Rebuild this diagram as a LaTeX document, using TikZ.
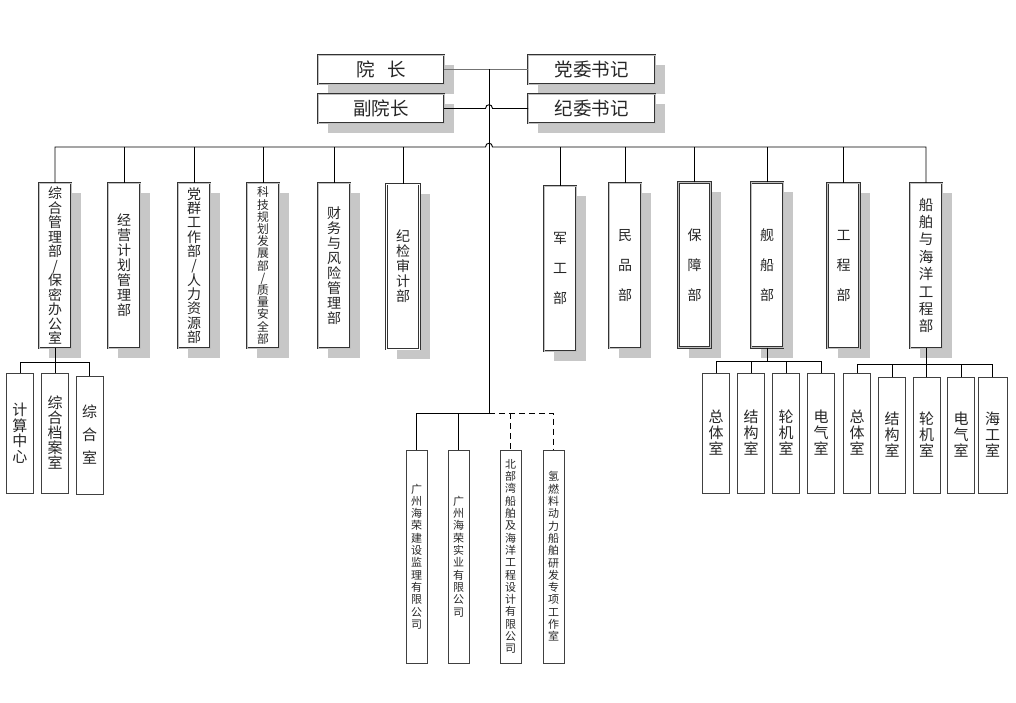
\documentclass[tikz,border=0pt]{standalone}
\usepackage{fontspec}
\setmainfont{Noto Sans CJK SC}
\usetikzlibrary{shadows}
\newcommand\myfs[2]{\fontsize{#1}{#2}\selectfont\lineskiplimit=-\maxdimen\lineskip=0pt}
\tikzset{
  every node/.style={inner sep=0pt, outer sep=0pt, text=black!85, align=center},
  shad/.style={drop shadow={shadow xshift=10pt, shadow yshift=-10pt, fill=black!22, opacity=1}},
  dbl/.style={draw=black!80, line width=0.8pt, double=gray!50, double distance=0.9pt, fill=white},
  topbox/.style={dbl, shad, minimum width=126, minimum height=29, font=\myfs{18.5}{20}},
  dept/.style={dbl, shad, minimum width=32, minimum height=165},
  subroom/.style={draw=black!75, line width=1pt, fill=white, minimum width=27, minimum height=120},
  company/.style={draw=black!75, line width=1pt, fill=white, minimum width=21, minimum height=213, font=\myfs{11}{12.3}},
  conn/.style={draw=black, line width=0.9pt},
  f14/.style={font=\myfs{14}{15}},
  fsp/.style={font=\myfs{14}{30}},
  fsub/.style={font=\myfs{15}{16}},
}
\begin{document}
\begin{tikzpicture}[x=1pt,y=-1pt]
\useasboundingbox[fill=white] (0,0) rectangle (1016,703);

% top leaders
\node[topbox] (yz) at (381,69.5) {院\hspace{0.7em}长};
\node[topbox] (fyz) at (381,108.5) {副院长};
\node[topbox, minimum width=127] (dw) at (591.5,69.5) {党委书记};
\node[topbox, minimum width=127] (jw) at (591.5,108.5) {纪委书记};

\coordinate (top) at (489,69.5);
\coordinate (bus) at (489,147);
\coordinate (cb) at (489,413);

% departments
\node[dept, font=\myfs{14}{14.5}] (d1) at (55,265.5) {综\\合\\管\\理\\部\\/\\保\\密\\办\\公\\室};
\node[dept, f14] (d2) at (124,265.5) {经\\营\\计\\划\\管\\理\\部};
\node[dept, font=\myfs{14}{14.3}] (d3) at (194,265.5) {党\\群\\工\\作\\部\\/\\人\\力\\资\\源\\部};
\node[dept, font=\myfs{11.8}{12.2}] (d4) at (263,265.5) {科\\技\\规\\划\\发\\展\\部\\/\\质\\量\\安\\全\\部};
\node[dept, f14] (d5) at (334,265.5) {财\\务\\与\\风\\险\\管\\理\\部};
\node[dept, f14, minimum width=33, double=white] (d6) at (403,266.5) {纪\\检\\审\\计\\部};
\node[dept, fsp] (d7) at (560,268.5) {军\\工\\部};
\node[dept, fsp] (d8) at (625,265.5) {民\\品\\部};
\node[dept, fsp] (d9) at (694.5,265) {保\\障\\部};
\node[dept, fsp] (d10) at (767,265) {舰\\船\\部};
\node[dept, fsp] (d11) at (843.5,265.5) {工\\程\\部};
\node[dept, font=\myfs{14.5}{17.4}] (d12) at (926,265.5) {船\\舶\\与\\海\\洋\\工\\程\\部};

% sub rooms left
\node[subroom, font=\myfs{15}{15.5}] (s1) at (20,433) {计\\算\\中\\心};
\node[subroom, font=\myfs{15}{15}] (s2) at (55,433) {综\\合\\档\\案\\室};
\node[subroom, font=\myfs{15}{23}, minimum height=118] (s3) at (89.5,435) {综\\合\\室};

% sub rooms 舰船部
\node[subroom, fsub] (r1) at (716,433) {总\\体\\室};
\node[subroom, fsub] (r2) at (751,433) {结\\构\\室};
\node[subroom, fsub] (r3) at (786,433) {轮\\机\\室};
\node[subroom, fsub] (r4) at (821,433) {电\\气\\室};

% sub rooms 船舶与海洋工程部
\node[subroom, fsub] (q1) at (857,433) {总\\体\\室};
\node[subroom, fsub, minimum height=116] (q2) at (892,435) {结\\构\\室};
\node[subroom, fsub, minimum height=116] (q3) at (926.5,435) {轮\\机\\室};
\node[subroom, fsub, minimum height=116] (q4) at (961,435) {电\\气\\室};
\node[subroom, fsub, minimum height=116, minimum width=29] (q5) at (992.5,435) {海\\工\\室};

% companies
\node[company] (c1) at (416.5,556.5) {广\\州\\海\\荣\\建\\设\\监\\理\\有\\限\\公\\司};
\node[company] (c2) at (458.5,556.5) {广\\州\\海\\荣\\实\\业\\有\\限\\公\\司};
\node[company] (c3) at (510.5,556.5) {北\\部\\湾\\船\\舶\\及\\海\\洋\\工\\程\\设\\计\\有\\限\\公\\司};
\node[company] (c4) at (553.5,556.5) {氢\\燃\\料\\动\\力\\船\\舶\\研\\发\\专\\项\\工\\作\\室};

% connectors: top
\draw[draw=black!55, line width=1.8pt] (yz.east) -- (dw.west);
\draw[conn] (fyz.east) -- ([xshift=-3.5pt]fyz.east -| top)
  .. controls +(0,-5) and +(0,-5) .. ([xshift=3.5pt]fyz.east -| top) -- (jw.west);
\draw[conn] (top) -- (cb);

% main bus
\draw[conn] (d1.north) -- (d1.north |- bus) -- ([xshift=-3.5pt]bus)
  .. controls +(0,-5) and +(0,-5) .. ([xshift=3.5pt]bus) -- (d12.north |- bus) -- (d12.north);
\foreach \n in {d2,d3,d4,d5,d6,d7,d8,d9,d10,d11}
  \draw[conn] (\n.north) -- (\n.north |- bus);

% left sub bus
\coordinate (sb1) at (55,362);
\draw[conn] (d1.south) -- (s2.north);
\draw[conn] (s1.north) -- (s1.north |- sb1) -- (s3.north |- sb1) -- (s3.north);

% 舰船部 sub bus
\coordinate (sb2) at (767,361);
\draw[conn] (d10.south) -- (sb2);
\draw[conn] (r1.north) -- (r1.north |- sb2) -- (r4.north |- sb2) -- (r4.north);
\draw[conn] (r2.north) -- (r2.north |- sb2);
\draw[conn] (r3.north) -- (r3.north |- sb2);

% 船舶与海洋工程部 sub bus
\coordinate (sb3) at (926,364);
\draw[conn] (d12.south) -- (sb3);
\draw[conn] (q1.north) -- (q1.north |- sb3) -- (q5.north |- sb3) -- (q5.north);
\foreach \n in {q2,q3,q4}
  \draw[conn] (\n.north) -- (\n.north |- sb3);

% companies bus
\draw[conn] (c1.north) -- (c1.north |- cb) -- (cb);
\draw[conn] (c2.north) -- (c2.north |- cb);
\draw[conn, dash pattern=on 6pt off 4pt] (cb) -- (c4.north |- cb) -- (c4.north);
\draw[conn, dash pattern=on 6pt off 4pt] (c3.north |- cb) -- (c3.north);
\end{tikzpicture}
\end{document}
